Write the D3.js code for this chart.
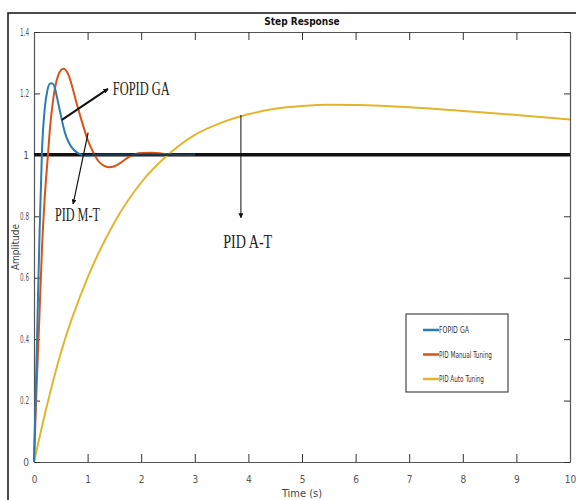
<!DOCTYPE html>
<html>
<head>
<meta charset="utf-8">
<script src="https://cdn.jsdelivr.net/npm/d3@7"></script>
<style>
  body { margin: 0; background: #fff; }
  svg { display: block; }
</style>
</head>
<body>
<svg id="chart" width="576" height="500"></svg>
<script>
// step response data
var tBlue   = [0, 0.05, 0.1, 0.15, 0.2, 0.25, 0.3, 0.35, 0.4, 0.45, 0.5, 0.55, 0.6, 0.65, 0.7, 0.8, 0.9, 1.0, 1.2, 1.5, 2, 2.5, 3];
var vBlue   = [0, 0.35, 0.72, 1.02, 1.15, 1.21, 1.232, 1.232, 1.21, 1.17, 1.13, 1.09, 1.06, 1.04, 1.025, 1.008, 1.0, 0.998, 1.0, 1.0, 1.0, 1.0, 1.0];

var tOrange = [0, 0.05, 0.1, 0.15, 0.2, 0.26, 0.3, 0.35, 0.4, 0.45, 0.5, 0.55, 0.6, 0.65, 0.7, 0.8, 0.9, 1.0, 1.1, 1.2, 1.3, 1.4, 1.5, 1.6, 1.7, 1.8, 1.9, 2.0, 2.2, 2.4, 2.6, 2.8, 3];
var vOrange = [0, 0.25, 0.47, 0.7, 0.86, 1.0, 1.09, 1.17, 1.225, 1.258, 1.275, 1.28, 1.274, 1.258, 1.23, 1.165, 1.105, 1.05, 1.01, 0.98, 0.965, 0.96, 0.963, 0.972, 0.985, 0.996, 1.003, 1.006, 1.007, 1.004, 1.0, 0.999, 1.0];

var tYellow = [0, 0.25, 0.5, 1, 1.5, 2, 2.5, 3, 3.5, 4, 4.5, 5, 5.5, 6, 7, 8, 9, 10];
var vYellow = [0, 0.19, 0.355, 0.6, 0.78, 0.91, 1.0, 1.065, 1.105, 1.132, 1.15, 1.159, 1.163, 1.162, 1.155, 1.143, 1.13, 1.115];

var seriesNames  = ["FOPID GA", "PID Manual Tuning", "PID Auto Tuning"];
var seriesColors = ["#2b7bb4", "#d95319", "#e3b52c"];

var xTicks = [0, 1, 2, 3, 4, 5, 6, 7, 8, 9, 10];
var yTicks = [0, 0.2, 0.4, 0.6, 0.8, 1, 1.2, 1.4];

// annotations: text + arrow (from -> to) in data units
var notes = [
  {label: "FOPID GA", tx: 1.47, ty: 1.195, len: 57, x1: 0.52, y1: 1.114, x2: 1.38, y2: 1.215, w: 2},
  {label: "PID M-T",  tx: 0.39, ty: 0.785, len: 45, x1: 1.01, y1: 1.072, x2: 0.73, y2: 0.84, w: 1.2},
  {label: "PID A-T",  tx: 3.53, ty: 0.697, len: 49, x1: 3.86, y1: 1.13, x2: 3.86, y2: 0.795, w: 1}
];

var svg = d3.select("#chart");
var margin = {top: 32, right: 6, bottom: 38, left: 34};
var width = 576 - margin.left - margin.right,
    height = 500 - margin.top - margin.bottom;

// figure frame
svg.append("path")
  .attr("d", "M8,500 L8,13 L576,13")
  .attr("fill", "none")
  .attr("stroke", "#111")
  .attr("stroke-width", 1.5);

var g = svg.append("g").attr("transform", "translate(" + margin.left + "," + margin.top + ")");

var x = d3.scaleLinear().domain([0, 10]).range([0, width]);
var y = d3.scaleLinear().domain([0, 1.4]).range([height, 0]);

var defs = svg.append("defs");
defs.append("marker")
  .attr("id", "head")
  .attr("viewBox", "0 0 10 10")
  .attr("refX", 9).attr("refY", 5)
  .attr("markerWidth", 5).attr("markerHeight", 5)
  .attr("markerUnits", "userSpaceOnUse")
  .attr("orient", "auto")
  .append("path")
  .attr("d", "M0,0 L10,5 L0,10 z")
  .attr("fill", "#111");

// axes (box style, ticks inside)
var tickFont = "'Liberation Sans Narrow', 'DejaVu Sans Condensed', sans-serif";

var xAxis = g.append("g").attr("transform", "translate(0," + height + ")")
  .call(d3.axisBottom(x).tickValues(xTicks).tickSizeInner(-8).tickSizeOuter(0).tickPadding(14));
var xTop = g.append("g")
  .call(d3.axisTop(x).tickValues(xTicks).tickSizeInner(-8).tickSizeOuter(0).tickFormat(""));
var yAxis = g.append("g")
  .call(d3.axisLeft(y).tickValues(yTicks).tickSizeInner(-6).tickSizeOuter(0).tickPadding(5)
    .tickFormat(function(d) { return d3.format("~g")(d); }));
var yRight = g.append("g").attr("transform", "translate(" + width + ",0)")
  .call(d3.axisRight(y).tickValues(yTicks).tickSizeInner(-6).tickSizeOuter(0).tickFormat(""));

[xAxis, xTop, yAxis, yRight].forEach(function(a) {
  a.select(".domain").attr("stroke", "#555").attr("stroke-width", 1.2);
  a.selectAll(".tick line").attr("stroke", "#333");
  a.selectAll(".tick text").attr("fill", "#555").style("font-family", tickFont).style("font-size", "10px");
});
// squeeze the decimal labels like the narrow MATLAB font
yAxis.selectAll(".tick text")
  .filter(function(d) { return String(d).length > 1; })
  .attr("textLength", 9)
  .attr("lengthAdjust", "spacingAndGlyphs");

// reference line at 1
g.append("line")
  .attr("x1", x(0)).attr("x2", x(10))
  .attr("y1", y(1)).attr("y2", y(1))
  .attr("stroke", "#111")
  .attr("stroke-width", 3.5);

var line = d3.line()
  .x(function(d) { return x(d[0]); })
  .y(function(d) { return y(d[1]); })
  .curve(d3.curveMonotoneX);

var series = [d3.zip(tBlue, vBlue), d3.zip(tOrange, vOrange), d3.zip(tYellow, vYellow)];

// draw yellow first so the faster ones sit on top
[2, 1, 0].forEach(function(i) {
  g.append("path")
    .datum(series[i])
    .attr("fill", "none")
    .attr("stroke", seriesColors[i])
    .attr("stroke-width", 2)
    .attr("d", line);
});

// black line shows through where the curves have settled
g.append("line")
  .attr("x1", x(0.9)).attr("x2", x(3))
  .attr("y1", y(1)).attr("y2", y(1))
  .attr("stroke", "#111")
  .attr("stroke-width", 2.5)
  .attr("opacity", 0.6);

// annotations
notes.forEach(function(n) {
  g.append("line")
    .attr("x1", x(n.x1)).attr("y1", y(n.y1))
    .attr("x2", x(n.x2)).attr("y2", y(n.y2))
    .attr("stroke", "#111")
    .attr("stroke-width", n.w)
    .attr("marker-end", "url(#head)");
  g.append("text")
    .attr("x", x(n.tx)).attr("y", y(n.ty))
    .attr("textLength", n.len)
    .attr("lengthAdjust", "spacingAndGlyphs")
    .style("font-family", "'Liberation Serif', 'DejaVu Serif', serif")
    .style("font-size", "18px")
    .attr("fill", "#222")
    .text(n.label);
});

// title and labels
svg.append("text")
  .attr("x", margin.left + width / 2).attr("y", 25)
  .attr("text-anchor", "middle")
  .style("font-family", tickFont)
  .style("font-size", "10px")
  .style("font-weight", "bold")
  .attr("fill", "#111")
  .text("Step Response");

svg.append("text")
  .attr("x", margin.left + width / 2).attr("y", 497)
  .attr("text-anchor", "middle")
  .style("font-family", tickFont)
  .style("font-size", "11px")
  .attr("fill", "#444")
  .text("Time (s)");

svg.append("text")
  .attr("transform", "translate(19," + (margin.top + height / 2) + ") rotate(-90)")
  .attr("text-anchor", "middle")
  .style("font-family", tickFont)
  .style("font-size", "10px")
  .attr("fill", "#444")
  .text("Amplitude");

// legend
var legW = 102, legH = 78;
var lx = width - 164, ly = 282;
var leg = g.append("g").attr("transform", "translate(" + lx + "," + ly + ")");
leg.append("rect")
  .attr("width", legW).attr("height", legH)
  .attr("fill", "#fff")
  .attr("stroke", "#222")
  .attr("stroke-width", 1);

var legLens = [30, 53, 45];
seriesNames.forEach(function(name, i) {
  var yy = 16 + i * 24.5;
  leg.append("line")
    .attr("x1", 17).attr("x2", 33)
    .attr("y1", yy).attr("y2", yy)
    .attr("stroke", seriesColors[i])
    .attr("stroke-width", 2.5);
  leg.append("text")
    .attr("x", 33).attr("y", yy + 3)
    .attr("textLength", legLens[i])
    .attr("lengthAdjust", "spacingAndGlyphs")
    .style("font-family", tickFont)
    .style("font-size", "9px")
    .attr("fill", "#333")
    .text(name);
});
</script>
</body>
</html>
